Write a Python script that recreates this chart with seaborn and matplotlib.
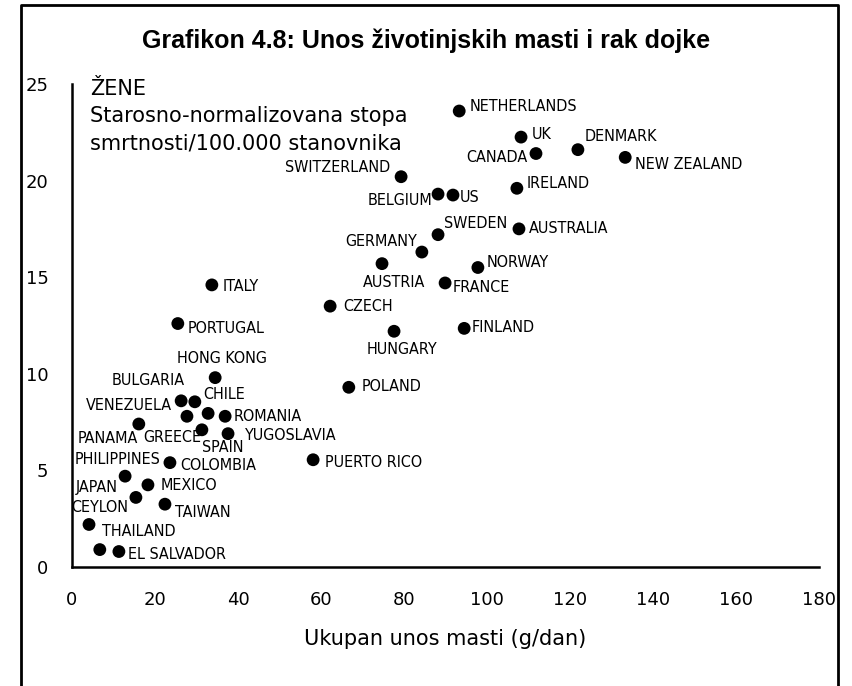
import numpy as np
import pandas as pd
import seaborn as sns
from matplotlib import pyplot as plt
from matplotlib.lines import Line2D

# Datos: unos masti (g/dan) i stopa smrtnosti
countries = ["NETHERLANDS", "UK", "DENMARK", "CANADA", "NEW ZEALAND", "SWITZERLAND",
             "IRELAND", "BELGIUM", "US", "SWEDEN", "AUSTRALIA", "GERMANY", "AUSTRIA",
             "NORWAY", "FRANCE", "ITALY", "CZECH", "PORTUGAL", "HUNGARY", "FINLAND",
             "HONG KONG", "POLAND", "BULGARIA", "CHILE", "VENEZUELA", "GREECE", "ROMANIA",
             "SPAIN", "YUGOSLAVIA", "PANAMA", "PUERTO RICO", "COLOMBIA", "PHILIPPINES",
             "MEXICO", "JAPAN", "TAIWAN", "CEYLON", "THAILAND", "EL SALVADOR"]
fat_intake = [93.3, 108.2, 121.9, 111.8, 133.3, 79.3,
              107.2, 88.2, 91.8, 88.2, 107.7, 84.3, 74.7,
              97.8, 89.9, 33.7, 62.2, 25.5, 77.6, 94.5,
              34.5, 66.7, 26.3, 29.6, 27.7, 32.8, 36.9,
              31.3, 37.6, 16.1, 58.1, 23.6, 12.8,
              18.3, 15.4, 22.4, 4.1, 6.7, 11.3]
mortality = [23.6, 22.25, 21.6, 21.4, 21.2, 20.2,
             19.6, 19.3, 19.25, 17.2, 17.5, 16.3, 15.7,
             15.5, 14.7, 14.6, 13.5, 12.6, 12.2, 12.35,
             9.8, 9.3, 8.6, 8.55, 7.8, 7.95, 7.8,
             7.1, 6.9, 7.4, 5.55, 5.4, 4.7,
             4.25, 3.6, 3.25, 2.2, 0.9, 0.8]

x_ticks = [0, 20, 40, 60, 80, 100, 120, 140, 160, 180]
y_ticks = [0, 5, 10, 15, 20, 25]

title = "Grafikon 4.8: Unos životinjskih masti i rak dojke"
note = "ŽENE\nStarosno-normalizovana stopa\nsmrtnosti/100.000 stanovnika"
x_label = "Ukupan unos masti (g/dan)"

# pomak natpisa od tocke (pikseli, dx, dy prema gore) i poravnanje
label_pos = {
    "NETHERLANDS": (10, 5, "left"), "UK": (11, 3, "left"), "DENMARK": (7, 13, "left"),
    "CANADA": (-8, -4, "right"), "NEW ZEALAND": (10, -7, "left"),
    "SWITZERLAND": (-11, 9, "right"), "IRELAND": (10, 5, "left"),
    "BELGIUM": (-6, -6, "right"), "US": (7, -2, "left"), "SWEDEN": (6, 11, "left"),
    "AUSTRALIA": (10, 0, "left"), "GERMANY": (-5, 11, "right"),
    "AUSTRIA": (12, -19, "center"), "NORWAY": (9, 5, "left"), "FRANCE": (8, -5, "left"),
    "ITALY": (11, -2, "left"), "CZECH": (13, 0, "left"), "PORTUGAL": (10, -5, "left"),
    "HUNGARY": (8, -18, "center"), "FINLAND": (7, 1, "left"),
    "HONG KONG": (7, 19, "center"), "POLAND": (13, 1, "left"),
    "BULGARIA": (4, 20, "right"), "CHILE": (8, 7, "left"),
    "VENEZUELA": (-15, 11, "right"), "GREECE": (-65, -24, "left"),
    "ROMANIA": (8, 0, "left"), "SPAIN": (21, -18, "center"),
    "YUGOSLAVIA": (17, -2, "left"), "PANAMA": (-1, -14, "right"),
    "PUERTO RICO": (12, -3, "left"), "COLOMBIA": (10, -3, "left"),
    "PHILIPPINES": (-8, 17, "center"), "MEXICO": (13, -1, "left"),
    "JAPAN": (-18, 10, "right"), "TAIWAN": (10, -8, "left"),
    "CEYLON": (11, 17, "center"), "THAILAND": (2, 18, "left"),
    "EL SALVADOR": (9, -3, "left"),
}

df = pd.DataFrame({"country": countries, "fat": fat_intake, "rate": mortality})

sns.set_style("white")
plt.rcParams["font.family"] = ["DejaVu Sans"]
plt.rcParams["text.color"] = "black"
plt.rcParams["axes.labelcolor"] = "black"
plt.rcParams["xtick.color"] = "black"
plt.rcParams["ytick.color"] = "black"

fig = plt.figure(figsize=(8.52, 6.86), dpi=100)
ax = fig.add_axes([0.0845, 0.1735, 0.8768, 0.7041])

sns.scatterplot(data=df, x="fat", y="rate", color="black", s=85,
                edgecolor="none", ax=ax, clip_on=False)

for _, row in df.iterrows():
    dx, dy, ha = label_pos[row["country"]]
    ax.annotate(row["country"], (row["fat"], row["rate"]), xytext=(dx, dy),
                textcoords="offset pixels", ha=ha, va="center", fontsize=11.5,
                family=["Liberation Sans Narrow", "DejaVu Sans"], fontstretch="condensed")

ax.set_xlim(0, 180)
ax.set_ylim(0, 25)
ax.set_xticks(x_ticks)
ax.set_yticks(y_ticks)
ax.set_xlabel(x_label, fontsize=15, labelpad=15)
ax.set_ylabel("")
ax.tick_params(axis="both", direction="out", length=9, width=1.5, labelsize=13,
               pad=8, color="black")
for side in ["top", "right"]:
    ax.spines[side].set_visible(False)
for side in ["left", "bottom"]:
    ax.spines[side].set_linewidth(1.8)
    ax.spines[side].set_color("black")

fig.text(0.5, 1 - 41 / 686, title, ha="center", va="center", fontsize=18,
         fontweight="bold", family=["Liberation Sans", "DejaVu Sans"])
fig.text(90 / 852, 1 - 79 / 686, note, ha="left", va="top", fontsize=15,
         linespacing=1.46)

# okvir oko slike (bez donje crte)
x0, x1, y1 = 21 / 852, 838 / 852, 1 - 5 / 686
fig.add_artist(Line2D([x0, x0, x1, x1], [0, y1, y1, 0], transform=fig.transFigure,
                      color="black", lw=2))

fig.savefig("out.png", dpi=100)
